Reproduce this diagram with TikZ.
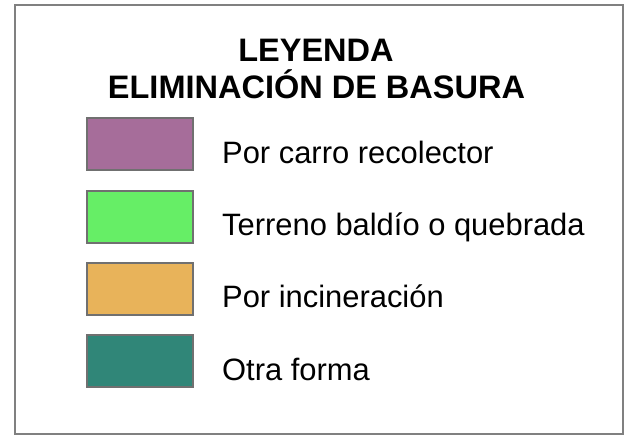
\documentclass[tikz,border=0pt]{standalone}
\usepackage{fontspec}
\setmainfont{Liberation Sans}
\definecolor{cpurple}{RGB}{166,109,154}
\definecolor{cgreen}{RGB}{102,238,102}
\definecolor{corange}{RGB}{232,179,90}
\definecolor{cteal}{RGB}{48,134,120}
\definecolor{frame}{RGB}{128,128,128}
\definecolor{edge}{RGB}{112,112,112}
\begin{document}
\begin{tikzpicture}[x=1pt,y=-1pt,
  swatch/.style={draw=edge,line width=2pt,minimum width=106pt,minimum height=52pt,inner sep=0pt},
  lbl/.style={anchor=base west,inner sep=0pt,font=\fontsize{30.9}{36}\selectfont},
  ttl/.style={anchor=base,inner sep=0pt,font=\fontsize{32.5}{38}\selectfont\bfseries}]
\useasboundingbox (0,0) rectangle (636,436);
\node[draw=frame,line width=2pt,minimum width=608pt,minimum height=428pt,inner sep=0pt] (frm) at (319,219.5) {};
\node[ttl] (t1) at (316,61.5) {LEYENDA};
\node[ttl] (t2) at (316.5,98) {ELIMINACIÓN DE BASURA};
\node[swatch,fill=cpurple] (s1) at (140,144) {};
\node[swatch,fill=cgreen] (s2) at (140,216.5) {};
\node[swatch,fill=corange] (s3) at (140,288.5) {};
\node[swatch,fill=cteal] (s4) at (140,361) {};
\node[lbl] (l1) at (222,163) {Por carro recolector};
\node[lbl] (l2) at (222,235.5) {Terreno baldío o quebrada};
\node[lbl] (l3) at (222,307.5) {Por incineración};
\node[lbl] (l4) at (222,380) {Otra forma};
\end{tikzpicture}
\end{document}
